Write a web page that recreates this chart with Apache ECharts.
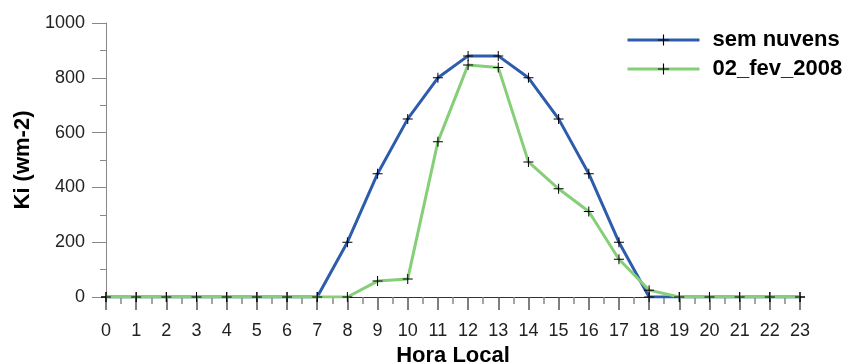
<!DOCTYPE html>
<html>
<head>
<meta charset="utf-8">
<script src="https://cdn.jsdelivr.net/npm/echarts@6/dist/echarts.min.js"></script>
<style>
html,body{margin:0;padding:0;background:#fff;}
#chart{width:849px;height:363px;}
</style>
</head>
<body>
<div id="chart"></div>
<script>
var hours = [0,1,2,3,4,5,6,7,8,9,10,11,12,13,14,15,16,17,18,19,20,21,22,23];
var semNuvens = [0,0,0,0,0,0,0,0,200,450,650,800,880,880,800,650,450,200,0,0,0,0,0,0];
var fev2008 = [0,0,0,0,0,0,0,0,0,58,66,567,847,838,493,395,312,138,25,0,0,0,0,0];
var seriesNames = ['sem nuvens','02_fev_2008'];
var yTicks = {min:0, max:1000, interval:200};

function pairs(vals){ return hours.map(function(h,i){ return [h, vals[i]]; }); }

var cross = 'path://M0,4.5H10V5.5H0Z M4.5,0H5.5V10H4.5Z';
var FONT = 'Liberation Sans';

var chart = echarts.init(document.getElementById('chart'), null, {renderer:'canvas'});
chart.setOption({
  animation:false,
  backgroundColor:'#fff',
  grid:{left:106, right:49, top:23, bottom:66, containLabel:false, outerBoundsMode:'none'},
  legend:{
    orient:'vertical', left:626, top:29, padding:0, itemWidth:72, itemHeight:14, itemGap:7,
    lineStyle:{width:3},
    textStyle:{fontFamily:FONT, fontSize:22, fontWeight:'bold', color:'#000', padding:[0,0,0,8], lineHeight:22},
    data:seriesNames
  },
  xAxis:{
    type:'value', position:'bottom', min:0, max:23, interval:1,
    name:'Hora Local', nameLocation:'middle', nameGap:38,
    nameTextStyle:{fontFamily:FONT, fontSize:22, fontWeight:'bold', color:'#000'},
    axisLine:{show:true, onZero:false, lineStyle:{color:'#333', width:1}},
    axisTick:{show:true, inside:false, length:13, lineStyle:{color:'#555', width:1.5}},
    minorTick:{show:true, splitNumber:2, length:7, lineStyle:{color:'#888', width:1.5}},
    axisLabel:{fontFamily:FONT, fontSize:18, color:'#222', margin:25},
    splitLine:{show:false}
  },
  yAxis:{
    type:'value', min:yTicks.min, max:yTicks.max, interval:yTicks.interval,
    name:'Ki (wm-2)', nameLocation:'middle', nameGap:55,
    nameTextStyle:{fontFamily:FONT, fontSize:22, fontWeight:'bold', color:'#000'},
    axisLine:{show:true, lineStyle:{color:'#888', width:1}},
    axisTick:{show:true, inside:false, length:14, lineStyle:{color:'#888'}},
    minorTick:{show:true, splitNumber:2, length:6, lineStyle:{color:'#888'}},
    axisLabel:{fontFamily:FONT, fontSize:18, color:'#222', margin:21, formatter:function(v){return String(v);}},
    splitLine:{show:false}
  },
  series:[
    {
      name:seriesNames[0], type:'line', data:pairs(semNuvens),
      symbol:cross, symbolSize:10, showAllSymbol:true,
      itemStyle:{color:'#000'},
      lineStyle:{color:'#2E5CAC', width:3},
      z:2
    },
    {
      name:seriesNames[1], type:'line', data:pairs(fev2008),
      symbol:cross, symbolSize:10, showAllSymbol:true,
      itemStyle:{color:'#000'},
      lineStyle:{color:'#86CF78', width:3},
      z:3
    }
  ]
});
</script>
</body>
</html>
